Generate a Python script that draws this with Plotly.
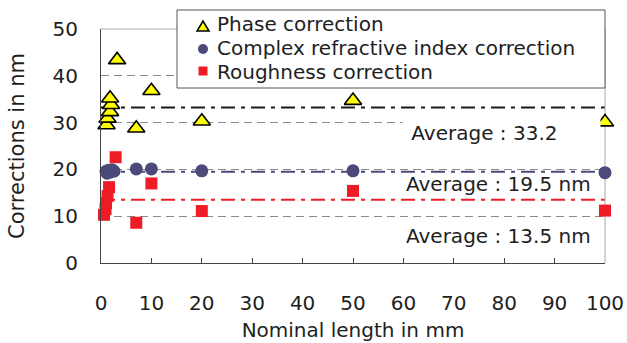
import plotly.graph_objects as go

# ---------------- data ----------------
phase_x = [1.1, 1.3, 1.8, 2.0, 1.8, 3.2, 7, 10, 20, 50, 100]
phase_y = [29.5, 30.9, 32.3, 33.8, 35.2, 43.4, 28.8, 36.8, 30.3, 34.7, 30.1]

complex_x = [1.0, 1.2, 1.5, 1.8, 2.2, 2.6, 7, 10, 20, 50, 100]
complex_y = [19.6, 19.2, 19.8, 19.4, 19.9, 19.6, 20.1, 20.1, 19.7, 19.7, 19.3]

rough_x = [0.6, 0.9, 1.0, 1.3, 1.6, 2.9, 7, 10, 20, 50, 100]
rough_y = [10.3, 11.5, 12.8, 14.3, 16.2, 22.6, 8.6, 17.0, 11.1, 15.4, 11.2]

series_names = ["Phase correction", "Complex refractive index correction", "Roughness correction"]
averages = [33.2, 19.5, 13.5]
average_labels = ["Average : 33.2", "Average : 19.5 nm", "Average : 13.5 nm"]

x_ticks = [0, 10, 20, 30, 40, 50, 60, 70, 80, 90, 100]
y_ticks = [0, 10, 20, 30, 40, 50]
x_title = "Nominal length in mm"
y_title = "Corrections in nm"

# ---------------- layout geometry ----------------
W, H = 627, 343
L, R, T, B = 101, 22, 29, 80
PW, PH = W - L - R, H - T - B
FONT = "DejaVu Sans"
TXT = "#1e1e1e"

YEL = "#FFFF00"
NAVY = "#4B4A7A"
RED = "#EE1C25"


def px(x):
    return (x - L) / PW


def py(y):
    return (H - B - y) / PH


fig = go.Figure()

fig.add_trace(go.Scatter(
    x=phase_x, y=phase_y, mode="markers", name=series_names[0], cliponaxis=False,
    marker=dict(symbol="triangle-up", size=15, color=YEL, line=dict(color="black", width=1.6)),
    showlegend=False))
fig.add_trace(go.Scatter(
    x=complex_x, y=complex_y, mode="markers", name=series_names[1], cliponaxis=False,
    marker=dict(symbol="circle", size=13, color=NAVY, line=dict(width=0)),
    showlegend=False))
fig.add_trace(go.Scatter(
    x=rough_x, y=rough_y, mode="markers", name=series_names[2], cliponaxis=False,
    marker=dict(symbol="square", size=12, color=RED, line=dict(width=0)),
    showlegend=False))

shapes = []
# average lines
avg_styles = [
    dict(color="#1a1a1a", width=2, dash="14px,6px,4px,6px"),
    dict(color=NAVY, width=2, dash="14px,6px,4px,6px"),
    dict(color=RED, width=2, dash="14px,6px,4px,6px"),
]
for a, st in zip(averages, avg_styles):
    shapes.append(dict(type="line", xref="x domain", yref="y", x0=0, x1=1, y0=a, y1=a,
                       line=st, layer="below"))

# frame (top and right, light grey)
shapes.append(dict(type="line", xref="paper", yref="paper", x0=0, x1=1, y0=1, y1=1,
                   line=dict(color="#a8a8a8", width=1), layer="above"))
shapes.append(dict(type="line", xref="paper", yref="paper", x0=1, x1=1, y0=0, y1=1,
                   line=dict(color="#a8a8a8", width=1), layer="below"))

# manual legend box
shapes.append(dict(type="rect", xref="paper", yref="paper",
                   x0=px(177), x1=px(605), y0=py(88), y1=py(10),
                   line=dict(color="#555555", width=1), fillcolor="white", layer="above"))
# legend symbols
tx, ty = 203, 26
shapes.append(dict(type="path", xref="paper", yref="paper",
                   path=f"M {px(tx-6)} {py(ty+5)} L {px(tx+6)} {py(ty+5)} L {px(tx)} {py(ty-5)} Z",
                   fillcolor=YEL, line=dict(color="black", width=1.5), layer="above"))
cx, cy = 203, 49
shapes.append(dict(type="circle", xref="paper", yref="paper",
                   x0=px(cx-5), x1=px(cx+5), y0=py(cy+5), y1=py(cy-5),
                   fillcolor=NAVY, line=dict(width=0), layer="above"))
sx, sy = 203, 71
shapes.append(dict(type="rect", xref="paper", yref="paper",
                   x0=px(sx-4.5), x1=px(sx+4.5), y0=py(sy+4.5), y1=py(sy-4.5),
                   fillcolor=RED, line=dict(width=0), layer="above"))

annotations = []
for name, yy in zip(series_names, [24, 48, 72]):
    annotations.append(dict(xref="paper", yref="paper", x=px(216), y=py(yy),
                            xanchor="left", yanchor="middle", showarrow=False, text=name,
                            borderpad=0,
                            font=dict(family=FONT, size=20, color=TXT)))

# average labels
annotations.append(dict(xref="paper", yref="paper", x=px(402), y=py(133), xanchor="left",
                        yanchor="middle", showarrow=False, text="&nbsp;" + average_labels[0],
                        width=193, align="left", bgcolor="white", borderpad=2,
                        font=dict(family=FONT, size=20, color=TXT)))
annotations.append(dict(xref="paper", yref="paper", x=px(498), y=py(184), xanchor="center",
                        yanchor="middle", showarrow=False, text=average_labels[1],
                        font=dict(family=FONT, size=20, color=TXT)))
annotations.append(dict(xref="paper", yref="paper", x=px(498), y=py(236), xanchor="center",
                        yanchor="middle", showarrow=False, text=average_labels[2],
                        font=dict(family=FONT, size=20, color=TXT)))

fig.update_layout(
    width=W, height=H, autosize=False,
    margin=dict(l=L, r=R, t=T, b=B, pad=0, autoexpand=False),
    paper_bgcolor="white", plot_bgcolor="white",
    showlegend=False,
    shapes=shapes, annotations=annotations,
    font=dict(family=FONT, color=TXT),
)

fig.update_xaxes(
    range=[0, 100], tickvals=x_ticks, ticktext=[str(v) for v in x_ticks],
    ticks="inside", ticklen=5, tickcolor="#444444", tickwidth=1,
    showline=True, linecolor="#444444", linewidth=1,
    showgrid=False, zeroline=False, automargin=False,
    tickfont=dict(family=FONT, size=20, color=TXT),
    ticklabelstandoff=22,
    title=dict(text=x_title, font=dict(family=FONT, size=20, color=TXT), standoff=8),
)
fig.update_yaxes(
    range=[0, 50], tickvals=y_ticks, ticktext=[str(v) for v in y_ticks],
    ticks="", showline=True, linecolor="#444444", linewidth=1,
    showgrid=True, gridcolor="#8a8a8a", gridwidth=1, griddash="8px,5px",
    zeroline=False, automargin=False,
    tickfont=dict(family=FONT, size=20, color=TXT),
    ticklabelstandoff=18,
    title=dict(text=y_title, font=dict(family=FONT, size=21, color=TXT), standoff=22),
)

fig.write_html("out.html")
